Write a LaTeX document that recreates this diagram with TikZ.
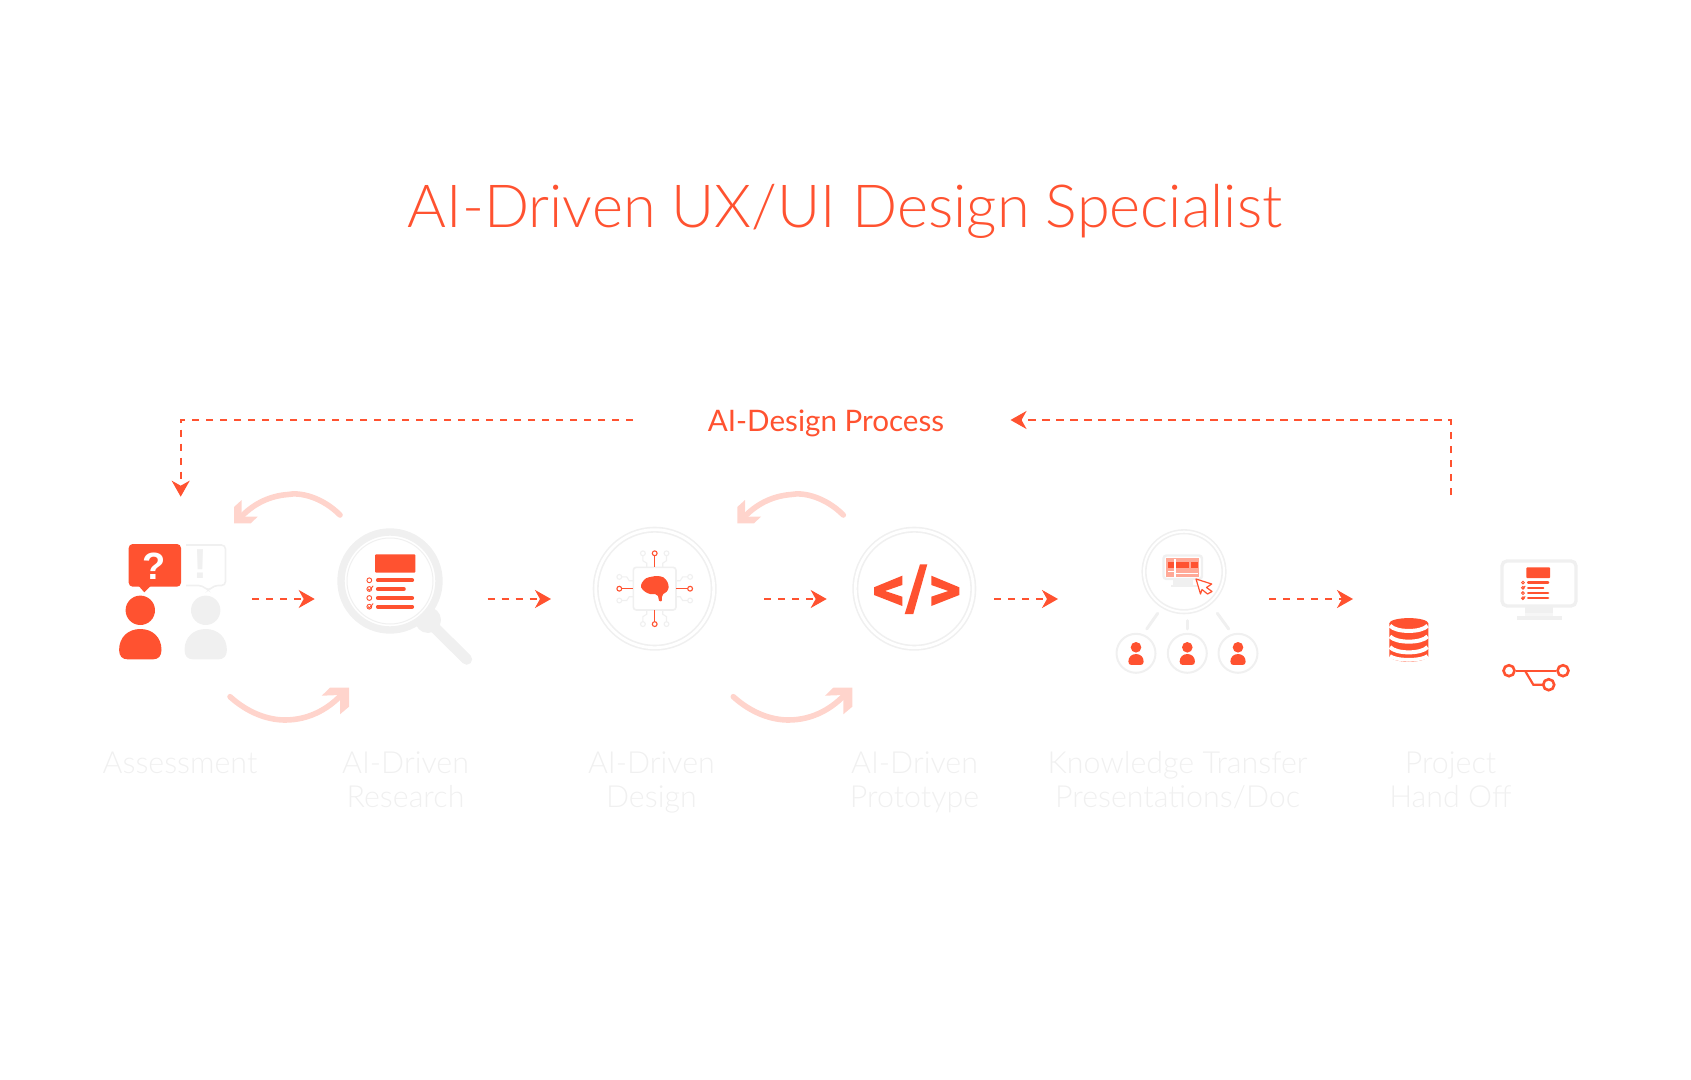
\documentclass[tikz,border=0pt]{standalone}
\usepackage{fontspec}
\setmainfont{Lato}
\newfontfamily\lightfont{Lato Light}
\newfontfamily\iconfont{Liberation Sans}
\usetikzlibrary{arrows.meta, positioning, calc}
\definecolor{brandred}{HTML}{FF5230}
\definecolor{softpink}{HTML}{FFD4CC}
\definecolor{palegray}{HTML}{F0F0F0}
\tikzset{
    flowarrow/.style={-{Stealth[length=8pt,width=9pt,inset=2.5pt]}, line width=1pt, draw=brandred, dash pattern=on 3.7pt off 3.3pt},
    looparc/.style={line width=2.8pt, draw=softpink, line cap=round},
    ringnode/.style={circle, draw=palegray, line width=0.8pt, double=white, double distance=1.4pt, inner sep=0pt, fill=white},
    usernode/.style={circle, draw=palegray, line width=1pt, minimum size=19.5pt, inner sep=0pt, fill=white},
    flownode/.style={circle, draw=brandred, line width=1.3pt, minimum size=5.5pt, inner sep=0pt},
    stagelabel/.style={font=\lightfont\fontsize{15.2}{17.3}\selectfont, text=palegray, align=center, inner sep=0pt, anchor=north},
    pinline/.style={line width=0.55pt},
    ktlink/.style={line width=1.5pt, draw=palegray, line cap=round},
    pics/personpic/.style={code={
        \fill (0,0) circle[radius=14.7];
        \fill (-21.2,39.7) .. controls (-21.2,26.7) and (-12,18.7) .. (0,18.7)
            .. controls (12,18.7) and (21.2,26.7) .. (21.2,39.7)
            .. controls (21.2,45.7) and (18,49) .. (13,49) -- (-13,49)
            .. controls (-18,49) and (-21.2,45.7) .. cycle;
    }},
    pics/docpic/.style={code={
        \fill[brandred, rounded corners=0.5pt] (0,0) rectangle (40.3,18.4);
        \draw[brandred, line width=#1, line cap=round] (3,26) -- (37,26);
        \draw[brandred, line width=#1, line cap=round] (3,34.7) -- (28.7,34.7);
        \draw[brandred, line width=#1, line cap=round] (3,43.7) -- (37,43.7);
        \draw[brandred, line width=#1, line cap=round] (3,52.4) -- (37,52.4);
        \draw[brandred, line width=0.45pt] (-5.7,26) circle[radius=2.4];
        \draw[brandred, line width=0.45pt] (-5.7,34.7) circle[radius=2.4];
        \draw[brandred, line width=0.45pt] (-5.7,43.7) circle[radius=2.4];
        \draw[brandred, line width=0.45pt] (-5.7,52.4) circle[radius=2.4];
        \draw[brandred, line width=0.45pt] (-7,34.5) -- (-5.7,36) -- (-1.8,31.5);
        \draw[brandred, line width=0.45pt] (-7,52.2) -- (-5.7,53.7) -- (-1.8,49.2);
    }},
    pics/swooppic/.style={code={
        % upper arc
        \draw[looparc] (340,515) .. controls (322,497) and (300,492) .. (288,494.5) .. controls (268,496) and (252,505) .. (240,518);
        \fill[softpink] (234,523.3) -- (234,507) -- (241.7,500) -- (241.7,516.7) -- (257.7,516.7) -- (250.7,523.3) -- cycle;
        % lower arc
        \draw[looparc] (230,696.7) .. controls (248,713) and (268,720) .. (285,720) .. controls (310,720) and (330,708) .. (344,692);
        \fill[softpink] (349,687.7) -- (349,706.7) -- (340,714.3) -- (340,695) -- (321.7,695.7) -- (330,687.7) -- cycle;
    }}
}

\begin{document}
\begin{tikzpicture}[x=0.5pt, y=-0.5pt]
    \useasboundingbox (0,0) rectangle (1691,1080);

    \node[font=\lightfont\fontsize{29.7}{34}\selectfont, text=brandred, inner sep=0pt] (title) at (845,211) {AI-Driven UX/UI Design Specialist};
    \node[font=\fontsize{14.8}{17}\selectfont, text=brandred, inner sep=0pt] (process) at (826,423) {AI-Design Process};

    % Process loop
    \coordinate (loopstart) at (633,420);
    \coordinate (loopend) at (180.7,496.7);
    \coordinate (backstart) at (1450.5,495);
    \coordinate (backend) at (1010.5,420);
    \draw[flowarrow] (loopstart) -| (loopend);
    \draw[flowarrow] (backstart) |- (backend);

    % Flow between stages
    \foreach \n/\fx/\tx in {a/252/314.7, b/487.5/551, c/764/826.7, d/994/1058, e/1269/1353} {
        \coordinate (from\n) at (\fx,599);
        \coordinate (to\n) at (\tx,599);
        \draw[flowarrow] (from\n) -- (to\n);
    }

    % Feedback arcs
    \pic at (0,0) {swooppic};
    \pic at (503.3,0) {swooppic};

    % Assessment
    \pic[color=brandred] at (140.3,610.3) {personpic};
    \pic[color=palegray] at (205.7,610.3) {personpic};
    \draw[palegray, line width=0.8pt, rounded corners=2pt] (186,545) -- (225.5,545) -- (225.5,585.5) -- (214,585.5) -- (208.3,591) -- (202.5,585.5) -- (186,585.5);
    \node[font=\iconfont\bfseries\fontsize{21}{22}\selectfont, text=palegray, inner sep=0pt] (bang) at (200.3,564) {!};
    \fill[brandred, rounded corners=2pt] (128.7,544) rectangle (181,586.7);
    \fill[brandred] (138.7,586) -- (150.7,586) -- (144.3,592.3) -- cycle;
    \node[font=\iconfont\bfseries\fontsize{19}{20}\selectfont, text=white, inner sep=0pt] (ask) at (154.3,566) {?};

    % Research
    \fill[palegray] (428,620) circle[radius=13];
    \draw[palegray, line width=5.5pt, line cap=round] (428,621) -- (466.7,659.3);
    \node[circle, draw=palegray, line width=3.7pt, minimum size=49pt, inner sep=0pt, fill=white] (lens) at (390,581) {};
    \node[circle, draw=palegray, line width=0.5pt, minimum size=43pt, inner sep=0pt] (lensinner) at (390,581) {};
    \pic at (375,554.3) {docpic=2.1pt};

    % Design
    \node[ringnode, minimum size=59pt] (designring) at (654.7,588.7) {};
    \draw[palegray, line width=0.8pt, rounded corners=1.5pt] (633.3,567.3) rectangle (676,610);
    \foreach \a in {0,90,180,270} {
        \begin{scope}[shift={(654.7,588.7)}, rotate=\a]
            \draw[palegray, pinline] (-11.8,-33) -- (-11.8,-28) -- (-8,-25.5) -- (-8,-21.4);
            \draw[palegray, pinline] (11.8,-33) -- (11.8,-28) -- (8,-25.5) -- (8,-21.4);
            \draw[palegray, pinline] (-11.8,-35.4) circle[radius=2.4];
            \draw[palegray, pinline] (11.8,-35.4) circle[radius=2.4];
            \draw[brandred, pinline] (0,-33) -- (0,-21.4);
            \draw[brandred, pinline] (0,-35.4) circle[radius=2.4];
        \end{scope}
    }
    \fill[brandred] plot[smooth cycle, tension=0.5] coordinates {(641,587.3) (642,582.7) (646,578.3) (651.7,576.7) (657.3,576) (663.3,577.3) (667.3,581.7) (668.7,587.3) (666.7,591.7) (663.3,594) (662,596.7) (661.7,601) (659,600.7) (658,596) (655,594) (650,594) (645,591.7)};

    % Prototype
    \node[ringnode, minimum size=59pt] (protoring) at (914.3,588.7) {};
    \fill[brandred] (902.3,575.7) -- (874,587.3) -- (874,595) -- (902.3,606) -- (902.3,596.7) -- (885,591) -- (902.3,585) -- cycle;
    \fill[brandred] (920,564.3) -- (927.3,564.3) -- (913.3,614) -- (904.7,614) -- cycle;
    \fill[brandred] (931.3,575.7) -- (959.3,587.3) -- (959.3,595) -- (931.3,606) -- (931.3,596.7) -- (948.3,591) -- (931.3,585) -- cycle;

    % Knowledge transfer
    \node[ringnode, minimum size=40pt, double distance=1pt] (ktroot) at (1184,571.7) {};
    \draw[palegray, line width=1.2pt, rounded corners=1.5pt] (1163.5,555.5) rectangle (1202,579);
    \fill[palegray] (1173,580) rectangle (1193,585);
    \fill[palegray] (1171,585) rectangle (1196.7,587);
    \fill[brandred!50] (1166.3,558) rectangle (1199,576.7);
    \fill[brandred] (1167.7,562) rectangle (1174,568.3);
    \fill[brandred] (1176,562) rectangle (1189.3,568.3);
    \fill[brandred] (1191,562) rectangle (1197.7,568.3);
    \fill[white] (1174.3,558.5) rectangle (1175.5,576.5);
    \draw[white, line width=0.4pt] (1168,571) -- (1174,571);
    \draw[white, line width=0.4pt] (1176,573.5) -- (1198,573.5);
    \draw[brandred, line width=0.6pt, fill=white, line join=round] (1196,579) -- (1211.7,584) -- (1206.5,587.5) -- (1212,591.5) -- (1207.5,594) -- (1202,589.5) -- (1200.5,594) -- cycle;
    \foreach \n/\ux in {a/1136, b/1187.3, c/1238} {
        \node[usernode] (ktuser\n) at (\ux,653.3) {};
        \pic[color=brandred, scale=0.36] at (\ux,647.3) {personpic};
    }
    \coordinate (ktlinka) at (1157.7,613.3);
    \coordinate (ktlinkb) at (1187.3,620.7);
    \coordinate (ktlinkc) at (1217.3,613.3);
    \coordinate (ktenda) at (1146.7,629);
    \coordinate (ktendb) at (1187.3,629);
    \coordinate (ktendc) at (1228.7,629);
    \draw[ktlink] (ktlinka) -- (ktenda);
    \draw[ktlink] (ktlinkb) -- (ktendb);
    \draw[ktlink] (ktlinkc) -- (ktendc);

    % Hand off
    \fill[brandred] (1389.3,623.3) -- (1389.3,656.5) .. controls (1394,663.5) and (1423.5,663.5) .. (1428.3,656.5) -- (1428.3,623.3) -- cycle;
    \fill[brandred] (1408.8,623.3) ellipse[x radius=19.5, y radius=5.2];
    \foreach \wy in {625.7, 636.4, 647.1} {
        \draw[white, line width=2pt] (1390,\wy) .. controls (1396,\wy+7) and (1421.5,\wy+7) .. (1427.6,\wy);
    }
    \draw[white, line width=1.8pt] (1390,656) .. controls (1396,661) and (1421.5,661) .. (1427.6,656);

    \draw[palegray, line width=1.7pt, rounded corners=2.5pt] (1502,561) rectangle (1576,606);
    \fill[palegray] (1525,607) rectangle (1553.3,612.5);
    \fill[palegray, opacity=0.6] (1525,612.5) rectangle (1553.3,616.3);
    \fill[palegray] (1516.7,616.3) rectangle (1561.7,620);
    \pic[scale=0.59] at (1526.3,567.3) {docpic=1.15pt};

    \node[flownode] (flowa) at (1509,670.7) {};
    \node[flownode] (flowb) at (1563,670.7) {};
    \node[flownode] (flowc) at (1548.7,684.7) {};
    \draw[brandred, line width=1.1pt] (flowa) -- (flowb);
    \coordinate (flowfork) at (1525,670.7);
    \coordinate (flowknee) at (1533.3,684.7);
    \draw[brandred, line width=1.1pt] (flowfork) -- (flowknee) -- (flowc);

    % Stage labels
    \node[stagelabel] (assess) at (180,748.7) {\strut Assessment};
    \node[stagelabel] (research) at (405.5,748.7) {\strut AI-Driven\\\strut Research};
    \node[stagelabel] (design) at (651.4,748.7) {\strut AI-Driven\\\strut Design};
    \node[stagelabel] (proto) at (914.5,748.7) {\strut AI-Driven\\\strut Prototype};
    \node[stagelabel] (knowledge) at (1177.6,748.7) {\strut Knowledge Transfer\\\strut Presentations/Doc};
    \node[stagelabel] (handoff) at (1450.5,748.7) {\strut Project\\\strut Hand Off};
\end{tikzpicture}
\end{document}
